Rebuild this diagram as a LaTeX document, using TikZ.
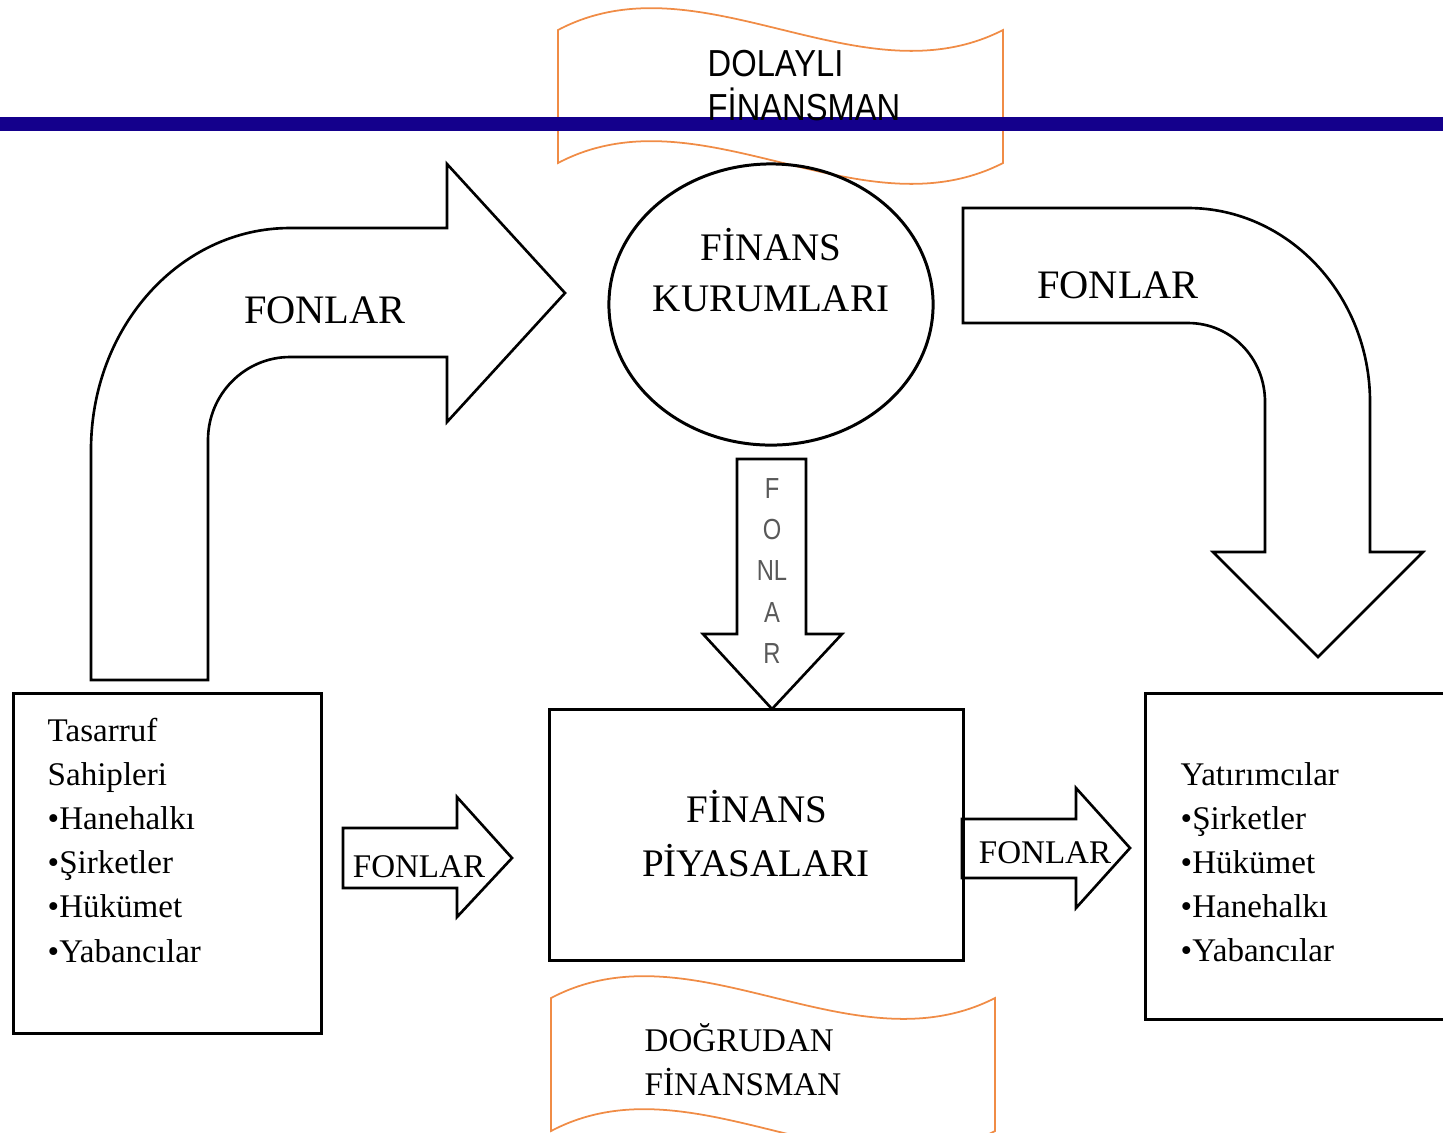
\documentclass[tikz,border=0pt]{standalone}
\usepackage{fontspec}
\usepackage{graphicx}
\setmainfont{Liberation Serif}
\newfontfamily\arialfont{Liberation Sans}
\usetikzlibrary{shapes.geometric}
\definecolor{bandblue}{RGB}{20,0,140}
\definecolor{wavecolor}{RGB}{240,140,70}
\tikzset{
  blockarrow/.style={draw=black, line width=0.75pt, line join=miter},
  framebox/.style={draw=black, line width=0.85pt, rectangle, inner sep=0pt},
  wavebanner/.style={draw=wavecolor, line width=0.5pt},
  bigtext/.style={anchor=base, inner sep=0pt, font=\fontsize{11.5}{14}\selectfont},
  titletext/.style={anchor=base, inner sep=0pt, font=\fontsize{11.1}{14}\selectfont},
  listtext/.style={anchor=base west, inner sep=0pt, font=\fontsize{9.4}{12.6}\selectfont},
  smalltext/.style={anchor=base, inner sep=0pt, font=\fontsize{9.4}{12.6}\selectfont},
  sanstext/.style={anchor=base west, inner sep=0pt, font=\arialfont\fontsize{9.3}{12.5}\selectfont},
  thintext/.style={anchor=base, inner sep=0pt, text=black!65, font=\arialfont\fontsize{7.5}{9}\selectfont}
}

\begin{document}
\begin{tikzpicture}[x=0.01cm, y=-0.01cm]
			%%%%% START %%%%%
			\useasboundingbox (0,0) rectangle (1443,1132);
			\clip (0,0) rectangle (1443,1132);
			
			% dolayli finansman banner
			\draw[wavebanner] (558,30) .. controls +(142,-75) and +(-143,73) .. (1003,30) -- (1003,163)
				.. controls +(-143,73) and +(142,-75) .. (558,163) -- cycle;
			\fill[bandblue] (0,117) rectangle (1443,131);
			\node[sanstext] (dolayli1) at (707,76) {\scalebox{1}[1.15]{DOLAYLI}};
			\node[sanstext] (dolayli2) at (707,120) {\scalebox{1}[1.15]{FİNANSMAN}};
			
			% dogrudan finansman banner
			\draw[wavebanner] (551,998) .. controls +(142,-75) and +(-143,73) .. (995,998) -- (995,1131)
				.. controls +(-143,73) and +(142,-75) .. (551,1131) -- cycle;
			\node[listtext] (dogrudan1) at (644,1051) {DOĞRUDAN};
			\node[listtext] (dogrudan2) at (644,1095) {FİNANSMAN};
			
			% kurumlar
			\node[draw, ellipse, line width=0.85pt, inner sep=0pt, minimum width=3.24cm, minimum height=2.81cm] (kurum) at (771,304.5) {};
			\node[titletext] (kurum1) at (771,260) {FİNANS};
			\node[titletext] (kurum2) at (771,311) {KURUMLARI};
			
			% kutular
			\node[framebox, minimum width=3.07cm, minimum height=3.39cm] (tasarruf) at (167.5,863.5) {};
			\node[framebox, minimum width=4.13cm, minimum height=2.5cm] (piyasa) at (756.5,835) {};
			\node[framebox, minimum width=3.2cm, minimum height=3.25cm] (yatirim) at (1306,856.5) {};
			\node[titletext] (piyasa1) at (757,822) {FİNANS};
			\node[titletext] (piyasa2) at (756,876) {PİYASALARI};
			
			\foreach \txt [count=\i] in {Tasarruf, Sahipleri, •Hanehalkı, •Şirketler, •Hükümet, •Yabancılar}
				\node[listtext] (sol\i) at (47,{741+44.2*(\i-1)}) {\txt};
			\foreach \txt [count=\i] in {Yatırımcılar, •Şirketler, •Hükümet, •Hanehalkı, •Yabancılar}
				\node[listtext] (sag\i) at (1180,{785+44.2*(\i-1)}) {\txt};
			
			% buyuk kavisli oklar
			\draw[blockarrow] (91,680) -- (91,450) .. controls (91,327) and (180,228) .. (290,228) -- (447,228)
				-- (447,164) -- (565,293) -- (447,422) -- (447,357) -- (290,357)
				.. controls (245,357) and (208,394) .. (208,440) -- (208,680) -- cycle;
			\node[bigtext] (fonsol) at (325,323) {FONLAR};
			
			\draw[blockarrow] (963,208) -- (1188,208) .. controls (1288,208) and (1370,295) .. (1370,402)
				-- (1370,552) -- (1423,552) -- (1318,657) -- (1213,552) -- (1265,552) -- (1265,402)
				.. controls (1265,358) and (1231,323) .. (1188,323) -- (963,323) -- cycle;
			\node[bigtext] (fonsag) at (1118,298) {FONLAR};
			
			% asagi ok
			\draw[blockarrow] (737,459) -- (806,459) -- (806,634) -- (842,634) -- (772,709) -- (703,634) -- (737,634) -- cycle;
			\foreach \ch/\yy [count=\i] in {F/498, O/539, NL/580, A/622, R/663}
				\node[thintext] (dikey\i) at (772,\yy) {\scalebox{0.9}[1.1]{\ch}};
			
			% kucuk oklar
			\draw[blockarrow] (343,828) -- (457,828) -- (457,797) -- (512,858) -- (457,917) -- (457,888) -- (343,888) -- cycle;
			\node[smalltext] (fonalt1) at (419,877) {FONLAR};
			\draw[blockarrow] (962,819) -- (1076,819) -- (1076,788) -- (1130,848) -- (1076,908) -- (1076,878) -- (962,878) -- cycle;
			\node[smalltext] (fonalt2) at (1045,863) {FONLAR};
			
			%%%%% END %%%%%
\end{tikzpicture}
\end{document}
